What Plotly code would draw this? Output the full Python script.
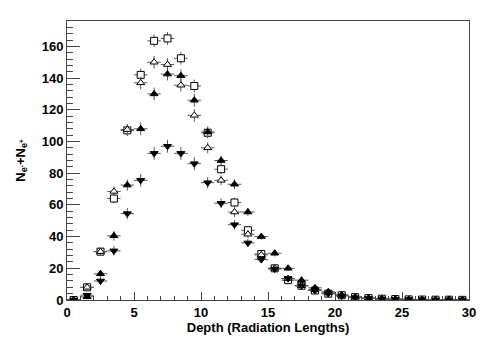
import plotly.graph_objects as go

depth = [i + 0.5 for i in range(30)]

open_squares = [0, 8, 30.5, 64, 107, 142, 163.5, 165, 152.5, 135, 105.5, 82.5, 61.5, 44, 29,
                20, 12.5, 9, 6, 4, 3, 1.8, 1.2, 0.8, 0.6, 0.4, 0.3, 0.2, 0.2, 0.1]
open_triangles = [0, 8, 30.5, 68.5, 107.5, 137, 150, 148.5, 135.5, 116.5, 96, 75.5, 55.5, 41.5, 28.5,
                  20, 13.5, 9, 6.5, 4.5, 3, 2, 1.3, 0.9, 0.6, 0.4, 0.3, 0.2, 0.2, 0.1]
filled_up = [0, 2, 16.5, 40.5, 72.5, 108, 130, 142.5, 141.5, 126, 106, 88, 73, 55.5, 40,
             29.5, 20, 12.5, 7.7, 5.2, 3.1, 1.7, 0.9, 0.5, 0.3, 0.2, 0.1, 0.1, 0.1, 0.1]
filled_down = [0, 3, 12, 31, 54.5, 75.5, 92.5, 97, 92.5, 86, 74, 61, 47.5, 36, 25.5,
               19.5, 13.5, 9, 6, 4, 2.5, 1.5, 1, 0.7, 0.5, 0.3, 0.2, 0.1, 0.1, 0.1]
# vertical error per bin (rough reading, same for all series)
y_err = [0.5, 1.5, 2.5, 3, 3.5, 4, 4, 4, 4, 4, 3.5, 3, 3, 2.5, 2,
         2, 1.5, 1.5, 1, 1, 1, 1, 1, 1, 1, 1, 1, 1, 1, 1]

# (values, symbol, fill) - open markers get a white fill so the error bars stop at the outline
series = [
    (open_squares, "square", "white"),
    (open_triangles, "triangle-up", "white"),
    (filled_up, "triangle-up", "black"),
    (filled_down, "triangle-down", "black"),
]

fig = go.Figure()
for vals, sym, fill in series:
    fig.add_trace(go.Scatter(
        x=depth, y=vals, mode="markers",
        marker=dict(symbol=sym, size=7, color=fill, line=dict(width=1, color="black")),
        error_x=dict(type="constant", value=0.5, thickness=1, width=0, color="#555"),
        error_y=dict(type="data", array=y_err, thickness=1, width=0, color="#555"),
        showlegend=False,
    ))

fnt = dict(family="Liberation Sans, Arial, sans-serif", size=13, color="black")
tfnt = dict(family="Liberation Sans, Arial, sans-serif", size=13, color="black", weight="bold")
# page body has an 8px margin, so the figure is a bit smaller than the window
fig.update_layout(
    width=480, height=338,
    margin=dict(l=50, r=12, t=12, b=46),
    paper_bgcolor="white", plot_bgcolor="white",
    font=fnt,
    xaxis=dict(
        range=[0, 30], dtick=5, ticks="inside", ticklen=8, tickcolor="#444",
        minor=dict(dtick=1, ticks="inside", ticklen=4, tickcolor="#444"),
        showline=True, linecolor="#444", linewidth=1, mirror=True,
        showgrid=False, zeroline=False,
        tickfont=tfnt,
        title=dict(text="<b>Depth (Radiation Lengths)</b>", font=fnt, standoff=1),
    ),
    yaxis=dict(
        range=[0, 176], dtick=20, ticks="inside", ticklen=13, tickcolor="#444",
        minor=dict(dtick=4, ticks="inside", ticklen=6, tickcolor="#444"),
        showline=True, linecolor="#444", linewidth=1, mirror=True,
        showgrid=False, zeroline=False,
        tickfont=tfnt,
        title=dict(text="<b>N<sub>e<sup>-</sup></sub>+N<sub>e<sup>+</sup></sub></b>", font=fnt, standoff=13),
    ),
)

fig.write_html("out.html")
